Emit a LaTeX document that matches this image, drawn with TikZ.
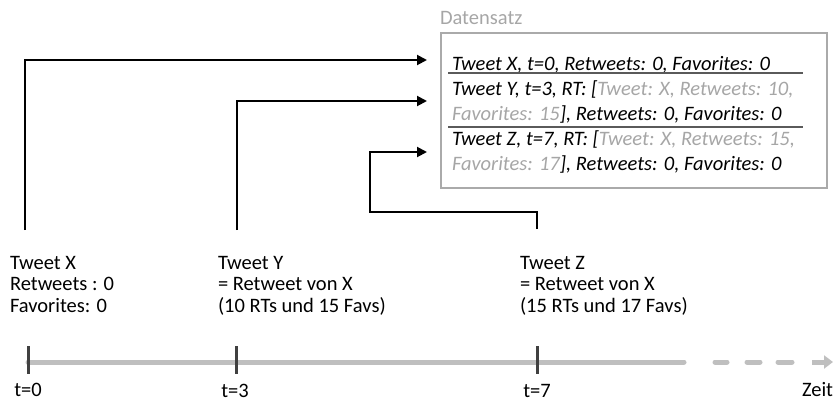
\documentclass[tikz,border=0pt]{standalone}
\usepackage{fontspec}
\setmainfont{Carlito}
\usetikzlibrary{arrows.meta}
\definecolor{tgray}{RGB}{166,166,166}
\definecolor{boxgray}{RGB}{170,170,170}
\definecolor{sepgray}{RGB}{90,90,90}
\definecolor{tlgray}{RGB}{191,191,191}
\definecolor{tickgray}{RGB}{64,64,64}
\tikzset{
  txt/.style={inner sep=0pt, outer sep=0pt, font=\fontsize{20.5}{21.5}\selectfont},
  boxline/.style={txt, anchor=base west, font=\fontsize{20.5}{22}\selectfont\itshape},
  conn/.style={draw=black, line width=2pt, -{Triangle[length=10pt,width=10pt]}},
  tick/.style={draw=tickgray, line width=3pt},
  tline/.style={draw=tlgray, line width=5pt, line cap=round},
}
\newcommand{\mygray}[1]{\textcolor{tgray}{#1}}
\begin{document}
\begin{tikzpicture}[x=1pt,y=-1pt]
\useasboundingbox (0,0) rectangle (833,402);
% Datensatz box
\node[txt, anchor=base west, text=tgray] (dlabel) at (440,24) {Datensatz};
\node[draw=boxgray, line width=2pt, minimum width=386pt, minimum height=155pt, inner sep=0pt] (box) at (634,110.5) {};
\node[boxline] (l1) at (452,70) {Tweet X, t=0, Retweets: 0, Favorites: 0};
\node[boxline] (l2) at (452,95) {Tweet Y, t=3, RT: [\mygray{Tweet: X, Retweets: 10,}};
\node[boxline] (l3) at (452,120) {\mygray{Favorites: 15}], Retweets: 0, Favorites: 0};
\node[boxline] (l4) at (452,145) {Tweet Z, t=7, RT: [\mygray{Tweet: X, Retweets: 15,}};
\node[boxline] (l5) at (452,170) {\mygray{Favorites: 17}], Retweets: 0, Favorites: 0};
\draw[sepgray, line width=2pt] (448,73) -- (803,73);
\draw[sepgray, line width=2pt] (448,127) -- (803,127);
% tweet descriptions (base = baseline of last line)
\node[txt, anchor=base west, align=left] (tx) at (10,312) {Tweet X\\Retweets : 0\\Favorites: 0};
\node[txt, anchor=base west, align=left] (ty) at (218,312) {Tweet Y\\= Retweet von X\\(10 RTs und 15 Favs)};
\node[txt, anchor=base west, align=left] (tz) at (520,312) {Tweet Z\\= Retweet von X\\(15 RTs und 17 Favs)};
% connectors
\coordinate (xs) at (25,230);
\coordinate (ys) at (237,230);
\coordinate (zs) at (537,229);
\coordinate (zb) at (370,212);
\coordinate (inX) at (427,60);
\coordinate (inY) at (427,101);
\coordinate (inZ) at (427,152);
\draw[conn] (xs) |- (inX);
\draw[conn] (ys) |- (inY);
\draw[conn] (zs) |- (zb) |- (inZ);
% timeline
\coordinate (t0) at (28,362);
\coordinate (t3) at (236,362);
\coordinate (t7) at (537,362);
\coordinate (tend) at (684,362);
\draw[tline] (t0) -- (tend);
\draw[tline] (715,362) -- (727,362);
\draw[tline] (747,362) -- (760,362);
\draw[tline] (778,362) -- (792,362);
\draw[draw=tlgray, line width=5pt, -{Triangle[length=9pt,width=13pt]}] (812,362) -- (833,362);
\draw[tick] (t0) ++(0,-16) -- ++(0,28);
\draw[tick] (t3) ++(0,-16) -- ++(0,28);
\draw[tick] (t7) ++(0,-16) -- ++(0,28);
\node[txt, anchor=base] (lt0) at (28,396) {t=0};
\node[txt, anchor=base] (lt3) at (235,397) {t=3};
\node[txt, anchor=base] (lt7) at (537,397) {t=7};
\node[txt, anchor=base west] (lzeit) at (802,396) {Zeit};
\end{tikzpicture}
\end{document}
